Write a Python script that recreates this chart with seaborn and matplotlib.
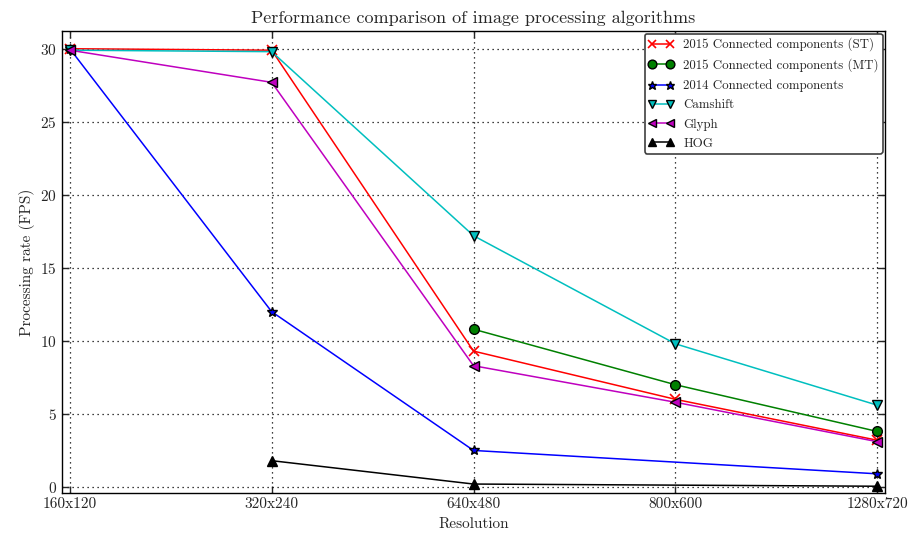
import numpy as np
import pandas as pd
import matplotlib
matplotlib.use("Agg")
import matplotlib.pyplot as plt
import seaborn as sns

resolutions = ["160x120", "320x240", "640x480", "800x600", "1280x720"]
cc2015_st = [30.0, 29.9, 9.3, 6.0, 3.2]
cc2015_mt = [np.nan, np.nan, 10.8, 7.0, 3.8]
cc2014 = [30.0, 12.0, 2.5, np.nan, 0.9]
camshift = [29.9, 29.8, 17.2, 9.8, 5.6]
glyph = [29.9, 27.7, 8.3, 5.8, 3.1]
hog = [np.nan, 1.8, 0.2, np.nan, 0.05]

series = [
    ("2015 Connected components (ST)", cc2015_st, "red", "x", "red"),
    ("2015 Connected components (MT)", cc2015_mt, "green", "o", "black"),
    ("2014 Connected components", cc2014, "blue", "*", "black"),
    ("Camshift", camshift, "c", "v", "black"),
    ("Glyph", glyph, "m", "<", "black"),
    ("HOG", hog, "black", "^", "black"),
]

sns.set_style("ticks")
plt.rcParams["font.family"] = ["cmr10", "DejaVu Serif"]
plt.rcParams["axes.formatter.use_mathtext"] = True
plt.rcParams["mathtext.fontset"] = "cm"

fig = plt.figure(figsize=(9.08, 5.38), dpi=100)
ax = fig.add_axes([0.068, 0.084, 0.907, 0.858])

xs = np.arange(len(resolutions))
for name, vals, color, marker, mec in series:
    df = pd.DataFrame({"x": xs, "y": vals}).dropna()
    sns.lineplot(data=df, x="x", y="y", ax=ax, color=color, marker=marker,
                 markersize=7, markeredgecolor=mec, markeredgewidth=1.0 if marker != "x" else 1.2,
                 linewidth=1.1, label=name, sort=False)

ax.set_xlim(-0.04, 4.04)
ax.set_ylim(-0.4, 31.2)
ax.set_xticks(xs)
ax.set_xticklabels(resolutions, fontsize=11)
ax.set_yticks([0, 5, 10, 15, 20, 25, 30])
ax.tick_params(axis="y", labelsize=11)
ax.tick_params(direction="in", top=True, right=True, length=5, width=1)
for s in ax.spines.values():
    s.set_linewidth(1.0)
    s.set_color("black")
ax.grid(True, linestyle=(0, (1, 3)), color="black", linewidth=0.9)
ax.set_xlabel("Resolution", fontsize=11)
ax.set_ylabel("Processing rate (FPS)", fontsize=11)
ax.set_title("Performance comparison of image processing algorithms", fontsize=13)

leg = ax.legend(loc="upper right", fontsize=9.3, numpoints=2, fancybox=True,
                shadow=False, framealpha=1, borderaxespad=0.2, borderpad=0.3,
                handlelength=2.0, handletextpad=0.7, labelspacing=0.55,
                markerscale=0.9)
leg.get_frame().set_edgecolor("0.25")
leg.get_frame().set_linewidth(1.2)

fig.savefig("out.png", dpi=100)
